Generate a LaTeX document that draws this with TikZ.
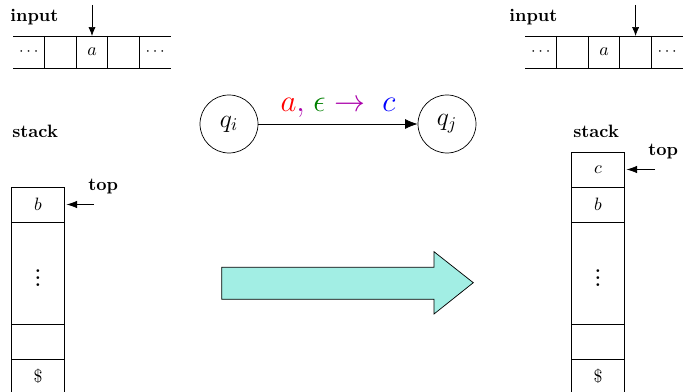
\documentclass[tikz,border=0pt]{standalone}
\usetikzlibrary{arrows.meta}
\definecolor{arrowfill}{RGB}{162,238,228}
\definecolor{lblgreen}{RGB}{0,128,0}
\definecolor{lblviolet}{RGB}{170,0,170}
\begin{document}
\begin{tikzpicture}[x=0.5587pt, y=-0.5587pt,
  tapecell/.style={minimum width=17.65pt, minimum height=17.9pt, inner sep=0pt, outer sep=0pt},
  stackcell/.style={draw, minimum width=29.4pt, minimum height=19.55pt, inner sep=0pt, outer sep=0pt},
  tallcell/.style={stackcell, minimum height=57pt, font=\bfseries},
  state/.style={draw, circle, minimum size=32.4pt, inner sep=0pt, font=\Large},
  lbl/.style={font=\bfseries, inner sep=0pt, anchor=base west},
  ptr/.style={-{Latex[length=5pt,width=4pt]}},
  topptr/.style={-{Latex[length=6pt,width=4.2pt]}, shorten >=1.2pt}]
\useasboundingbox (0,0) rectangle (685,392);

% ---------- left input tape ----------
\node[lbl] (linput) at (10,22) {input};
\node[tapecell, font=\small] (l1) at (28.8,52) {$\cdots$};
\node[tapecell] (l2) at (60.4,52) {};
\node[tapecell] (l3) at (92,52) {$a$};
\node[tapecell] (l4) at (123.6,52) {};
\node[tapecell, font=\small] (l5) at (155.2,52) {$\cdots$};
\draw (l1.north west) -- (l5.north east);
\draw (l1.south west) -- (l5.south east);
\foreach \c in {l2,l3,l4,l5} \draw (\c.north west) -- (\c.south west);
\coordinate (lhead) at (92,5);
\draw[ptr] (lhead) -- (l3.north);

% ---------- right input tape ----------
\node[lbl] (rinput) at (509,22) {input};
\node[tapecell, font=\small] (r1) at (540.8,52) {$\cdots$};
\node[tapecell] (r2) at (572.4,52) {};
\node[tapecell] (r3) at (604,52) {$a$};
\node[tapecell] (r4) at (635.6,52) {};
\node[tapecell, font=\small] (r5) at (667.2,52) {$\cdots$};
\draw (r1.north west) -- (r5.north east);
\draw (r1.south west) -- (r5.south east);
\foreach \c in {r2,r3,r4,r5} \draw (\c.north west) -- (\c.south west);
\coordinate (rhead) at (635.6,5);
\draw[ptr] (rhead) -- (r4.north);

% ---------- states ----------
\node[state] (qi) at (229,124) {$q_i$};
\node[state] (qj) at (447,124) {$q_j$};
\draw[-{Latex[length=7pt,width=5.5pt]}] (qi) -- (qj)
  node[midway, above=0pt, font=\LARGE] (trlabel)
  {$\textcolor{red}{a}\textcolor{lblviolet}{,}\;\textcolor{lblgreen}{\epsilon}\;\textcolor{lblviolet}{\rightarrow}\;\;\textcolor{blue}{c}$};

% ---------- left stack ----------
\node[lbl] (lstack) at (12,138) {stack};
\node[stackcell] (lb) at (38,204.5) {$b$};
\node[tallcell] (ldots) at (38,273) {$\vdots$};
\node[stackcell] (lempty) at (38,341.5) {};
\node[stackcell] (ldollar) at (38,376.5) {\$};
\node[lbl] (ltop) at (88,191) {top};
\coordinate (ltopstart) at (94,204.5);
\draw[topptr] (ltopstart) -- (lb.east);

% ---------- right stack ----------
\node[lbl] (rstack) at (573,138) {stack};
\node[stackcell] (rc) at (598,169.5) {$c$};
\node[stackcell] (rb) at (598,204.5) {$b$};
\node[tallcell] (rdots) at (598,273) {$\vdots$};
\node[stackcell] (rempty) at (598,341.5) {};
\node[stackcell] (rdollar) at (598,376.5) {\$};
\node[lbl] (rtop) at (648,156) {top};
\coordinate (rtopstart) at (655,169.5);
\draw[topptr] (rtopstart) -- (rc.east);

% ---------- big arrow ----------
\draw[fill=arrowfill, line width=0.4pt]
  (221.7,267.3) -- (434,267.3) -- (434,251.7) -- (473.3,282.7)
  -- (434,314) -- (434,299.3) -- (221.7,299.3) -- cycle;
\end{tikzpicture}
\end{document}
